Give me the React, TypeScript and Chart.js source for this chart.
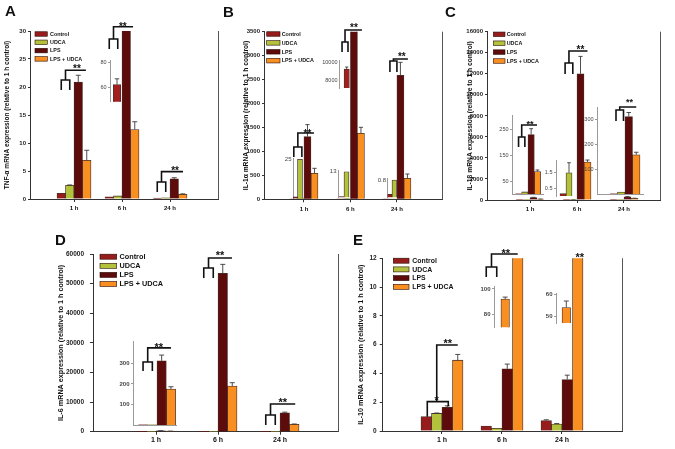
import React, { useEffect, useRef } from 'react';
import { Chart, registerables } from 'chart.js';

Chart.register(...registerables);

type Num = number | null;

const FONT = 'Arial, "Liberation Sans", Helvetica, sans-serif';

// ---------- shared categories / series ----------
const timeLabels = ['1 h', '6 h', '24 h'];
const seriesNames = ['Control', 'UDCA', 'LPS', 'LPS + UDCA'];
const seriesColors = ['#971d1d', '#b2c23c', '#5e0b0b', '#f98f21'];
const insetRed = '#a31f1f';

// ---------- A: TNF-α ----------
const tnfTicks = [0, 5, 10, 15, 20, 25, 30];
const tnfControl: Num[] = [1.0, 0.4, 0.15];
const tnfUDCA: Num[] = [2.45, 0.55, 0.2];
const tnfLPS: Num[] = [20.9, 62.5, 3.6];
const tnfLPSUDCA: Num[] = [6.9, 12.4, 0.84];
const tnfControlErr: Num[] = [null, null, null];
const tnfUDCAErr: Num[] = [0.06, null, null];
const tnfLPSErr: Num[] = [1.2, 4.5, 0.2];
const tnfLPSUDCAErr: Num[] = [1.8, 1.4, 0.08];
const tnfInsetTicks = [60, 80];

// ---------- B: IL-1α ----------
const il1aTicks = [0, 500, 1000, 1500, 2000, 2500, 3000, 3500];
const il1aControl: Num[] = [1.0, 0.5, 0.15];
const il1aUDCA: Num[] = [25, 13, 0.8];
const il1aLPS: Num[] = [1310, 9250, 2590];
const il1aLPSUDCA: Num[] = [543, 1378, 438];
const il1aControlErr: Num[] = [null, null, null];
const il1aUDCAErr: Num[] = [null, null, null];
const il1aLPSErr: Num[] = [250, 220, 270];
const il1aLPSUDCAErr: Num[] = [104, 125, 90];
const il1aInset1hTicks = [25];
const il1aInset6hTicks = [13];
const il1aInset24hTicks = [0.8];
const il1aInsetLPSTicks = [8000, 10000];

// ---------- C: IL-1β ----------
const il1bTicks = [0, 2000, 4000, 6000, 8000, 10000, 12000, 14000, 16000];
const il1bControl: Num[] = [1.0, 0.15, 1.0];
const il1bUDCA: Num[] = [8, 1.45, 8];
const il1bLPS: Num[] = [230, 12000, 310];
const il1bLPSUDCA: Num[] = [87, 3610, 157];
const il1bControlErr: Num[] = [null, null, null];
const il1bUDCAErr: Num[] = [null, 0.63, null];
const il1bLPSErr: Num[] = [23, 1650, 16];
const il1bLPSUDCAErr: Num[] = [6, 190, 10];
const il1bInset1hTicks = [50, 150, 250];
const il1bInset6hTicks = [0.5, 1.5];
const il1bInset24hTicks = [100, 200, 300];

// ---------- D: IL-6 ----------
const il6Ticks = [0, 10000, 20000, 30000, 40000, 50000, 60000];
const il6Control: Num[] = [1.0, 0.5, 0.4];
const il6UDCA: Num[] = [0.8, 0.6, 0.5];
const il6LPS: Num[] = [312, 53500, 6400];
const il6LPSUDCA: Num[] = [175, 15400, 2480];
const il6ControlErr: Num[] = [null, null, null];
const il6UDCAErr: Num[] = [null, null, null];
const il6LPSErr: Num[] = [28, 3000, 200];
const il6LPSUDCAErr: Num[] = [11, 1150, 120];
const il6InsetTicks = [100, 200, 300];

// ---------- E: IL-10 ----------
const il10Ticks = [0, 2, 4, 6, 8, 10, 12];
const il10Control: Num[] = [1.0, 0.35, 0.72];
const il10UDCA: Num[] = [1.22, 0.19, 0.48];
const il10LPS: Num[] = [1.65, 4.32, 3.58];
const il10LPSUDCA: Num[] = [4.92, 92, 54];
const il10ControlErr: Num[] = [null, null, 0.06];
const il10UDCAErr: Num[] = [0.03, null, 0.04];
const il10LPSErr: Num[] = [0.1, 0.33, 0.3];
const il10LPSUDCAErr: Num[] = [0.4, 1.5, 3];
const il10Inset6hTicks = [80, 100];
const il10Inset24hTicks = [50, 60];

// ---------- types & helpers ----------
interface Series { label: string; color: string; values: Num[]; errs: Num[] }
interface Star { bi: number; y: number; t: string }
interface Bracket { g: number; lines: [number, number][][]; stars: Star[] }
interface Decor {
  letter?: { t: string; x: number; y: number };
  yTitle?: { t: string; x: number; size: number };
  legend?: { x: number; y: number; dy: number; w: number; h: number; tx: number; size: number };
  rightBorder?: boolean;
  brackets?: Bracket[];
  starSize?: number;
}
interface Spec {
  box: [number, number, number, number];
  plot: [number, number, number, number];
  xMin: number; xMax: number; groups: number[];
  xLabels: string[] | null; xFont: number; xPad: number; baseline: boolean;
  yMin: number; yMax: number; yTicks: number[];
  yFont: number; yBold: boolean; yTickLen: number; yPad: number;
  axisColor: string; tickColor: string;
  series: Series[]; bw: number;
  decor: Decor;
}

function four(vals: Num[][], errs: Num[][]): Series[] {
  return vals.map((v, i) => ({ label: seriesNames[i], color: seriesColors[i], values: v, errs: errs[i] }));
}
function pick(s: Series[], idx: number, which: number[], color?: string): Series[] {
  return which.map((k) => ({
    label: s[k].label,
    color: color ?? s[k].color,
    values: [s[k].values[idx]],
    errs: [s[k].errs[idx]],
  }));
}
function sig(g: number, l: number, r: number, top: number, bot: number, line: number, end: number, sx: number, sy: number, t = '**'): Bracket {
  const m = (l + r) / 2;
  return {
    g,
    lines: [
      [[l, bot], [l, top], [r, top], [r, bot]],
      [[m, top], [m, line], [end, line]],
    ],
    stars: [{ bi: sx, y: sy, t }],
  };
}

const tnfSeries = four([tnfControl, tnfUDCA, tnfLPS, tnfLPSUDCA], [tnfControlErr, tnfUDCAErr, tnfLPSErr, tnfLPSUDCAErr]);
const il1aSeries = four([il1aControl, il1aUDCA, il1aLPS, il1aLPSUDCA], [il1aControlErr, il1aUDCAErr, il1aLPSErr, il1aLPSUDCAErr]);
const il1bSeries = four([il1bControl, il1bUDCA, il1bLPS, il1bLPSUDCA], [il1bControlErr, il1bUDCAErr, il1bLPSErr, il1bLPSUDCAErr]);
const il6Series = four([il6Control, il6UDCA, il6LPS, il6LPSUDCA], [il6ControlErr, il6UDCAErr, il6LPSErr, il6LPSUDCAErr]);
const il10Series = four([il10Control, il10UDCA, il10LPS, il10LPSUDCA], [il10ControlErr, il10UDCAErr, il10LPSErr, il10LPSUDCAErr]);

function mainSpec(o: Partial<Spec> & { box: Spec['box']; plot: Spec['plot']; xMin: number; xMax: number; yMax: number; yTicks: number[]; series: Series[]; bw: number; decor: Decor }): Spec {
  return {
    groups: [1, 2, 3], xLabels: timeLabels, xFont: 6, xPad: 3, baseline: true,
    yMin: 0, yFont: 6, yBold: true, yTickLen: 2, yPad: 2,
    axisColor: '#333', tickColor: '#222',
    ...o,
  } as Spec;
}

function insetSpec(plot: Spec['plot'], gc: number, bw: number, yMin: number, yMax: number, yTicks: number[], series: Series[],
  opt: { bold?: boolean; baseline?: boolean; tickLen?: number; brackets?: Bracket[]; starSize?: number; font?: number } = {}): Spec {
  const [l, t, r, b] = plot;
  const bx = Math.floor(l - 22), by = Math.floor(t - 26);
  const w = Math.ceil(r + 4) - bx, h = Math.ceil(b + 8) - by;
  const U = 10;
  return {
    box: [bx, by, w, h], plot,
    xMin: 1 - (gc - l) / U, xMax: 1 + (r - gc) / U, groups: [1],
    xLabels: null, xFont: 6, xPad: 2, baseline: !!opt.baseline,
    yMin, yMax, yTicks, yFont: opt.font ?? 5.5, yBold: !!opt.bold, yTickLen: opt.tickLen ?? 2, yPad: 1.5,
    axisColor: '#9a9a9a', tickColor: '#444',
    series, bw, decor: { brackets: opt.brackets, starSize: opt.starSize ?? 9 },
  };
}

// ---------- panel specs ----------
const SPECS: Spec[] = [
  // A
  mainSpec({
    box: [0, 0, 222, 215], plot: [30, 31, 218, 199], xMin: 0.0833, xMax: 4.0,
    yMax: 30, yTicks: tnfTicks, series: tnfSeries, bw: 8.5,
    decor: {
      letter: { t: 'A', x: 5, y: 15.5 },
      yTitle: { t: 'TNF-α mRNA expression (relative to 1 h control)', x: 7.5, size: 6.5 },
      legend: { x: 35, y: 34, dy: 8.3, w: 12.3, h: 4.5, tx: 50, size: 5.4 },
      rightBorder: true, starSize: 10,
      brackets: [
        sig(1, 0, 1, 21.25, 19.46, 23.0, 2.9, 1.85, 23.7),
        sig(2, 0, 1, 28.57, 26.79, 30.77, 2.8, 1.6, 31.25),
        sig(3, 0, 1, 3.04, 1.25, 4.88, 3.03, 2.1, 5.5),
      ],
    },
  }),
  // B
  mainSpec({
    box: [220, 0, 223, 215], plot: [264, 31.7, 442, 199.3], xMin: 0.14, xMax: 3.97,
    yMax: 3500, yTicks: il1aTicks, series: il1aSeries, bw: 7,
    decor: {
      letter: { t: 'B', x: 3, y: 17 },
      yTitle: { t: 'IL-1α mRNA expression (relative to 1 h control)', x: 26, size: 6.7 },
      legend: { x: 46.7, y: 34, dy: 8.9, w: 13.3, h: 4.5, tx: 61.7, size: 5.4 },
      rightBorder: true, starSize: 10,
      brackets: [
        sig(1, 0.05, 1.2, 1092, 883, 1384, 2.93, 2.0, 1420),
        sig(2, 0.3, 1.15, 3284, 3076, 3535, 3.14, 2.0, 3639),
        sig(3, 0.5, 1.5, 2888, 2658, 2930, 3.07, 2.2, 3034),
      ],
    },
  }),
  // C
  mainSpec({
    box: [443, 0, 232, 215], plot: [487, 31.7, 660, 200], xMin: 0.085, xMax: 3.766,
    yMax: 16000, yTicks: il1bTicks, series: il1bSeries, bw: 7,
    decor: {
      letter: { t: 'C', x: 2, y: 17 },
      yTitle: { t: 'IL-1β mRNA expression (relative to 1 h control)', x: 27.5, size: 6.7 },
      legend: { x: 50.3, y: 34.3, dy: 8.9, w: 11.7, h: 4.5, tx: 63.7, size: 5.4 },
      rightBorder: true, starSize: 10,
      brackets: [sig(2, -0.2, 0.9, 13025, 11980, 14165, 3.0, 2.0, 14545)],
    },
  }),
  // D
  mainSpec({
    box: [0, 215, 345, 234], plot: [93, 254, 338, 431.7], xMin: -0.016, xMax: 3.935,
    yMax: 60000, yTicks: il6Ticks, series: il6Series, bw: 9.5,
    xFont: 7, xPad: 1.5, yFont: 6.5, yTickLen: 3, yPad: 6,
    decor: {
      letter: { t: 'D', x: 55, y: 30 },
      yTitle: { t: 'IL-6 mRNA expression (relative to 1 h control)', x: 61, size: 7.2 },
      legend: { x: 100, y: 41.7, dy: 9.1, w: 16.7, h: 5, tx: 119.5, size: 7.3 },
      rightBorder: true, starSize: 11,
      brackets: [
        sig(2, 0, 1, 55260, 51890, 58640, 2.97, 1.7, 60330),
        sig(3, 0, 1, 5640, 2260, 9350, 3.1, 1.8, 10700),
      ],
    },
  }),
  // E
  mainSpec({
    box: [345, 215, 330, 234], plot: [382.7, 258.3, 622, 431], xMin: 0.012, xMax: 4.0,
    yMax: 12, yTicks: il10Ticks, series: il10Series, bw: 10.5,
    xFont: 7, xPad: 1.5, yFont: 6.5, yTickLen: 3, yPad: 3,
    decor: {
      letter: { t: 'E', x: 8, y: 30 },
      yTitle: { t: 'IL-10 mRNA expression (relative to 1 h control)', x: 16, size: 7.2 },
      legend: { x: 48.3, y: 45.7, dy: 8.7, w: 15.7, h: 5, tx: 67.3, size: 6.9 },
      rightBorder: true, starSize: 11,
      brackets: [
        {
          g: 1,
          lines: [
            [[0.1, 0.99], [0.1, 2.04], [2.1, 2.04], [2.1, 1.72]],
            [[1.0, 2.04], [1.0, 5.98], [3.0, 5.98]],
          ],
          stars: [{ bi: 1.0, y: 2.3, t: '*' }, { bi: 2.05, y: 6.25, t: '**' }],
        },
        sig(2, 0, 1, 11.4, 10.7, 12.3, 3.0, 1.85, 12.5),
        { g: 3, lines: [], stars: [{ bi: 3.2, y: 12.23, t: '**' }] },
      ],
    },
  }),
  // ---- insets ----
  insetSpec([110, 60, 124, 101.7], 117, 7.4, 49, 81.8, tnfInsetTicks, pick(tnfSeries, 1, [2], insetRed)),
  insetSpec([293, 158, 306, 198.5], 297.5, 5, 0, 25.8, il1aInset1hTicks, pick(il1aSeries, 0, [0, 1]), { tickLen: 0, font: 6 }),
  insetSpec([339, 60, 352, 88], 346.7, 5.3, 7260, 10210, il1aInsetLPSTicks, pick(il1aSeries, 1, [2], insetRed), { tickLen: 0 }),
  insetSpec([338, 170, 351, 197.5], 344, 5, 0, 13.86, il1aInset6hTicks, pick(il1aSeries, 1, [0, 1]), { tickLen: 0, font: 6 }),
  insetSpec([387.5, 178, 399, 197.5], 392, 4.5, 0, 0.89, il1aInset24hTicks, pick(il1aSeries, 2, [0, 1]), { tickLen: 0, font: 6 }),
  insetSpec([512, 115, 543, 194], 528, 6.3, 0, 306, il1bInset1hTicks, pick(il1bSeries, 0, [0, 1, 2, 3]), {
    baseline: true, brackets: [sig(1, 0, 1, 221, 182, 267, 2.93, 1.8, 279)],
  }),
  insetSpec([556, 160, 574, 196], 566, 6, 0, 2.25, il1bInset6hTicks, pick(il1bSeries, 1, [0, 1])),
  insetSpec([597, 107, 643, 194], 625, 7.5, 0, 348, il1bInset24hTicks, pick(il1bSeries, 2, [0, 1, 2, 3]), {
    baseline: true, brackets: [sig(1, 0.3, 1.3, 336, 292, 348, 3.0, 2.1, 376)],
  }),
  insetSpec([133, 341.7, 176, 425], 157, 9.3, 0, 405, il6InsetTicks, pick(il6Series, 0, [0, 1, 2, 3]), {
    baseline: true, bold: true, font: 6, starSize: 11, brackets: [sig(1, 0, 1, 306, 262, 375, 3.0, 1.7, 389)],
  }),
  insetSpec([494, 286.7, 512, 327.3], 505.2, 8.5, 69.7, 101.7, il10Inset6hTicks, pick(il10Series, 1, [3]), { bold: true, font: 6 }),
  insetSpec([556, 293.3, 573, 323], 566.3, 8.5, 46.9, 60.55, il10Inset24hTicks, pick(il10Series, 2, [3]), { bold: true, font: 6 }),
];

// ---------- plugin: error bars, legend, titles, brackets ----------
function makePlugin(s: Spec) {
  return {
    id: 'decor',
    afterDatasetsDraw(chart: any) {
      const ctx = chart.ctx;
      const ys = chart.scales.y;
      const ca = chart.chartArea;
      ctx.save();
      ctx.beginPath();
      ctx.rect(ca.left, ca.top - 0.5, ca.right - ca.left, ca.bottom - ca.top + 0.5);
      ctx.clip();
      ctx.strokeStyle = '#3a3a3a';
      ctx.lineWidth = 0.9;
      const cap = Math.min(s.bw * 0.3, 2.5);
      s.series.forEach((se, di) => {
        const meta = chart.getDatasetMeta(di);
        se.values.forEach((v, i) => {
          const e = se.errs[i];
          if (v == null || e == null) return;
          const el = meta.data[i];
          if (!el) return;
          const x = el.x;
          const y0 = ys.getPixelForValue(v);
          const y1 = ys.getPixelForValue(v + e);
          ctx.beginPath();
          ctx.moveTo(x, y0);
          ctx.lineTo(x, y1);
          ctx.moveTo(x - cap, y1);
          ctx.lineTo(x + cap, y1);
          ctx.stroke();
        });
      });
      ctx.restore();
    },
    afterDraw(chart: any) {
      const ctx = chart.ctx;
      const xs = chart.scales.x;
      const ys = chart.scales.y;
      const ca = chart.chartArea;
      const d = s.decor;
      ctx.save();
      if (d.rightBorder) {
        ctx.strokeStyle = '#555';
        ctx.lineWidth = 1;
        ctx.beginPath();
        ctx.moveTo(Math.round(ca.right) + 0.5, ca.top);
        ctx.lineTo(Math.round(ca.right) + 0.5, ca.bottom);
        ctx.stroke();
      }
      if (d.letter) {
        ctx.fillStyle = '#111';
        ctx.font = `bold 15px ${FONT}`;
        ctx.textAlign = 'left';
        ctx.textBaseline = 'alphabetic';
        ctx.fillText(d.letter.t, d.letter.x, d.letter.y);
      }
      if (d.yTitle) {
        ctx.save();
        ctx.translate(d.yTitle.x, (ca.top + ca.bottom) / 2);
        ctx.rotate(-Math.PI / 2);
        ctx.fillStyle = '#111';
        ctx.font = `bold ${d.yTitle.size}px ${FONT}`;
        ctx.textAlign = 'center';
        ctx.textBaseline = 'middle';
        ctx.fillText(d.yTitle.t, 0, 0);
        ctx.restore();
      }
      if (d.legend) {
        const L = d.legend;
        s.series.forEach((se, i) => {
          const yy = L.y + i * L.dy;
          ctx.fillStyle = se.color;
          ctx.fillRect(L.x, yy - L.h / 2, L.w, L.h);
          ctx.strokeStyle = '#2a0a05';
          ctx.lineWidth = 0.6;
          ctx.strokeRect(L.x, yy - L.h / 2, L.w, L.h);
          ctx.fillStyle = '#111';
          ctx.font = `bold ${L.size}px ${FONT}`;
          ctx.textAlign = 'left';
          ctx.textBaseline = 'middle';
          ctx.fillText(se.label, L.tx, yy + 0.3);
        });
      }
      if (d.brackets) {
        const n = s.series.length;
        const px = (g: number, bi: number) => xs.getPixelForValue(g) + (bi - (n - 1) / 2) * s.bw;
        const ss = d.starSize ?? 10;
        d.brackets.forEach((b) => {
          ctx.strokeStyle = '#111';
          ctx.lineWidth = 1.6;
          ctx.lineJoin = 'miter';
          ctx.lineCap = 'butt';
          b.lines.forEach((pl) => {
            ctx.beginPath();
            pl.forEach(([bi, v], k) => {
              const X = px(b.g, bi);
              const Y = ys.getPixelForValue(v);
              if (k === 0) ctx.moveTo(X, Y);
              else ctx.lineTo(X, Y);
            });
            ctx.stroke();
          });
          b.stars.forEach((st) => {
            ctx.fillStyle = '#111';
            ctx.font = `bold ${ss}px ${FONT}`;
            ctx.textAlign = 'center';
            ctx.textBaseline = 'alphabetic';
            ctx.fillText(st.t, px(b.g, st.bi), ys.getPixelForValue(st.y) + 0.575 * ss);
          });
        });
      }
      ctx.restore();
    },
  };
}

function build(canvas: HTMLCanvasElement, s: Spec): Chart {
  const [bx, by, bw, bh] = s.box;
  const [pl, pt, pr, pb] = s.plot;
  const ml = pl - bx, mt = pt - by, mr = bx + bw - pr, mb = by + bh - pb;
  const datasets = s.series.map((se) => ({
    label: se.label,
    data: se.values.map((v, i) => ({ x: s.groups[i], y: v })),
    backgroundColor: se.color,
    borderColor: 'rgba(40,12,4,0.85)',
    borderWidth: 0.8,
    barThickness: s.bw,
    clip: 0,
  }));
  const hasX = !!s.xLabels;
  const config: any = {
    type: 'bar',
    data: { datasets },
    options: {
      responsive: false,
      animation: false,
      devicePixelRatio: 1,
      events: [],
      layout: { padding: { left: 0, top: mt, right: mr, bottom: 0 } },
      plugins: { legend: { display: false }, tooltip: { enabled: false }, title: { display: false } },
      scales: {
        x: {
          type: 'linear',
          offset: false,
          bounds: 'data',
          min: s.xMin,
          max: s.xMax,
          afterBuildTicks: (sc: any) => { sc.ticks = s.groups.map((v) => ({ value: v })); },
          afterFit: (sc: any) => { sc.height = mb; },
          ticks: {
            display: hasX,
            autoSkip: false,
            maxRotation: 0,
            padding: s.xPad,
            color: '#111',
            font: { family: FONT, size: s.xFont, weight: 'bold' },
            callback: (v: number) => (s.xLabels ? s.xLabels[s.groups.indexOf(v)] ?? '' : ''),
          },
          grid: { display: true, offset: false, drawOnChartArea: false, drawTicks: hasX, tickLength: 3, color: s.axisColor },
          border: { display: s.baseline, color: s.axisColor, width: 1 },
        },
        y: {
          type: 'linear',
          bounds: 'data',
          min: s.yMin,
          max: s.yMax,
          afterBuildTicks: (sc: any) => { sc.ticks = s.yTicks.map((v) => ({ value: v })); },
          afterFit: (sc: any) => { sc.width = ml; },
          ticks: {
            padding: s.yPad,
            color: s.tickColor,
            font: { family: FONT, size: s.yFont, weight: s.yBold ? 'bold' : 'normal' },
            callback: (v: number) => String(v),
          },
          grid: { display: true, drawOnChartArea: false, drawTicks: s.yTickLen > 0, tickLength: s.yTickLen, color: s.axisColor },
          border: { display: true, color: s.axisColor, width: 1 },
        },
      },
    },
    plugins: [makePlugin(s)],
  };
  return new Chart(canvas, config);
}

export default function App() {
  const refs = useRef<(HTMLCanvasElement | null)[]>([]);
  useEffect(() => {
    const charts = SPECS.map((s, i) => build(refs.current[i] as HTMLCanvasElement, s));
    return () => charts.forEach((c) => c.destroy());
  }, []);
  return (
    <div style={{ position: 'fixed', left: 0, top: 0, width: 675, height: 449, background: '#fff', overflow: 'hidden' }}>
      {SPECS.map((s, i) => (
        <canvas
          key={i}
          ref={(el) => { refs.current[i] = el; }}
          width={s.box[2]}
          height={s.box[3]}
          style={{ position: 'absolute', left: s.box[0], top: s.box[1], width: s.box[2], height: s.box[3] }}
        />
      ))}
    </div>
  );
}
